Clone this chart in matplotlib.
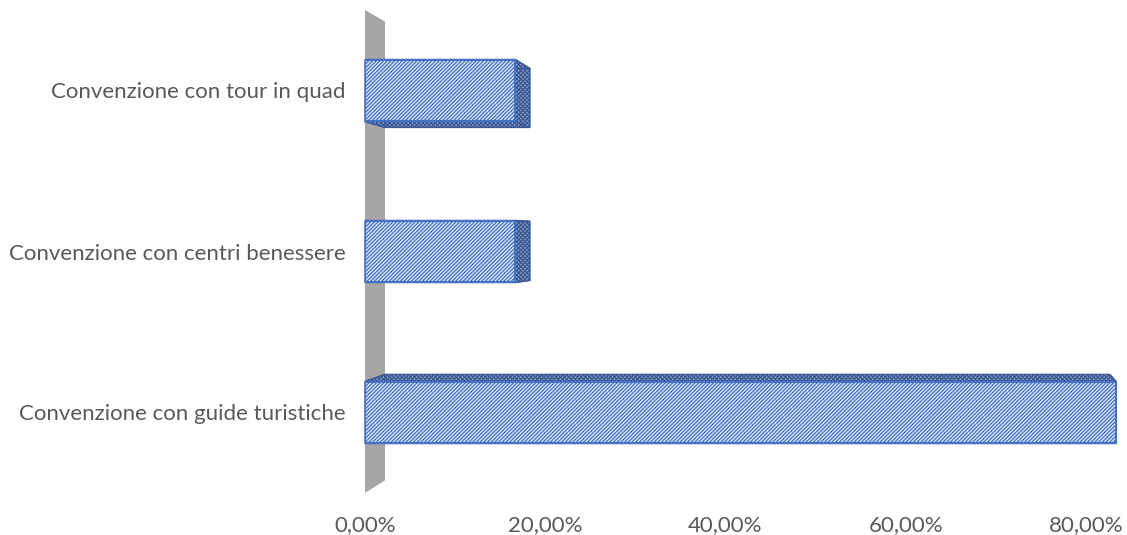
import numpy as np
import matplotlib
matplotlib.use('Agg')
import matplotlib.pyplot as plt
from matplotlib.patches import Polygon
from matplotlib.transforms import IdentityTransform
from matplotlib.ticker import FuncFormatter

categories = ['Convenzione con guide turistiche',
              'Convenzione con centri benessere',
              'Convenzione con tour in quad']
values = [83.33, 16.67, 16.67]   # percent
xticks = [0, 20, 40, 60, 80]

plt.rcParams['font.family'] = ['Lato', 'DejaVu Sans']
plt.rcParams['hatch.linewidth'] = 0.9

W, H = 1127, 535
fig = plt.figure(figsize=(W/100, H/100), dpi=100)
ax = fig.add_axes([365/W, 42/H, 762/W, 483/H])
ax.set_xlim(0, 762/9.0125)
ax.set_ylim(-0.5, 2.5)

# fake excel 3d: back plane is a squeezed copy of the front plane (display px)
def back(pts):
    x0 = ax.transData.transform((0, 0))[0]
    out = np.array(pts, dtype=float).copy()
    out[:, 0] = x0 + 20 + 0.965*(out[:, 0] - x0)
    out[:, 1] = 0.95*out[:, 1] + 14.75
    return out

# gray wall at x=0
front = ax.transAxes.transform([(0, 0), (0, 1)])
bk = back(front)
wall = Polygon([front[0], front[1], bk[1], bk[0]], closed=True,
               facecolor='#a6a6a6', edgecolor='none',
               transform=IdentityTransform(), zorder=1, clip_on=False)
ax.add_patch(wall)

bars = ax.barh(range(len(categories)), values, height=0.385,
               color='#dae3f3', edgecolor='#4472c4', hatch='/'*9,
               linewidth=1.5, zorder=3)

for b in bars:
    f = ax.transData.transform(b.get_corners())
    bb = back(f)
    for i in range(4):
        j = (i + 1) % 4
        side = Polygon([f[i], f[j], bb[j], bb[i]], closed=True,
                       facecolor='#8596c0', edgecolor='#3d5a96', hatch='x'*8,
                       linewidth=1.0, transform=IdentityTransform(),
                       zorder=2, clip_on=False)
        ax.add_patch(side)

ax.set_yticks(range(len(categories)), categories)
ax.set_xticks(xticks)
ax.xaxis.set_major_formatter(FuncFormatter(lambda v, p: f'{v:.2f}%'.replace('.', ',')))
ax.tick_params(axis='y', length=0, pad=14, labelsize=16, labelcolor='#595959')
ax.tick_params(axis='x', length=0, pad=16, labelsize=16, labelcolor='#595959')
for s in ax.spines.values():
    s.set_visible(False)
ax.patch.set_visible(False)

fig.savefig('out.png', dpi=100)
